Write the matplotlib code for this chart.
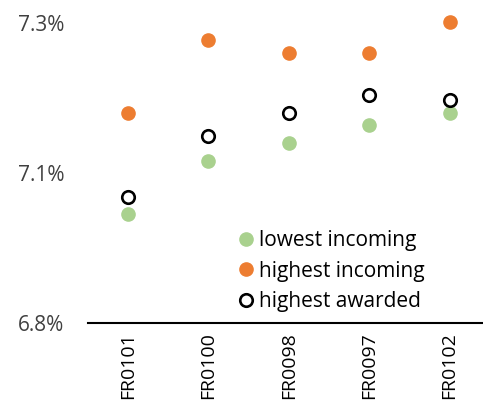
import matplotlib
matplotlib.use("Agg")
import matplotlib.pyplot as plt
from matplotlib.ticker import FixedLocator, FixedFormatter

categories = ["FR0101", "FR0100", "FR0098", "FR0097", "FR0102"]
lowest_incoming = [6.981, 7.070, 7.100, 7.130, 7.149]
highest_incoming = [7.149, 7.271, 7.250, 7.250, 7.301]
highest_awarded = [7.010, 7.111, 7.149, 7.179, 7.171]
y_ticks = [6.8, 7.05, 7.3]
y_tick_labels = ["6.8%", "7.1%", "7.3%"]

plt.rcParams['font.family'] = ['Open Sans', 'DejaVu Sans']

fig = plt.figure(figsize=(4.83, 4.09), dpi=100)
W, H = 483, 409
left, right, top, bottom = 87.7, 489.7, 22.7, 322.7
ax = fig.add_axes([left / W, 1 - bottom / H, (right - left) / W, (bottom - top) / H])

x = list(range(len(categories)))
ax.plot(x, lowest_incoming, linestyle='none', marker='o', markersize=9.5,
        markerfacecolor='#A9D18E', markeredgecolor='#A9D18E', label='lowest incoming', clip_on=False)
ax.plot(x, highest_incoming, linestyle='none', marker='o', markersize=9.5,
        markerfacecolor='#ED7D31', markeredgecolor='#ED7D31', label='highest incoming', clip_on=False)
ax.plot(x, highest_awarded, linestyle='none', marker='o', markersize=9.0,
        markerfacecolor='white', markeredgecolor='black', markeredgewidth=1.9,
        label='highest awarded', clip_on=False)

ax.set_xlim(-0.5, len(categories) - 0.5)
ax.set_ylim(6.8, 7.3)
ax.yaxis.set_major_locator(FixedLocator(y_ticks))
ax.yaxis.set_major_formatter(FixedFormatter(y_tick_labels))
ax.set_xticks(x)
ax.set_xticklabels(categories, rotation=90, fontsize=14, color='#000000')

for s in ['top', 'right', 'left']:
    ax.spines[s].set_visible(False)
ax.spines['bottom'].set_linewidth(1.5)
ax.spines['bottom'].set_color('black')
ax.tick_params(axis='y', length=0, pad=17, labelsize=15, labelcolor='#404040')
ax.tick_params(axis='x', length=0, pad=7)

leg = ax.legend(loc='center left', bbox_to_anchor=(240 / W, 1 - 271 / H),
                bbox_transform=fig.transFigure, frameon=False, fontsize=15,
                handlelength=0.6, handletextpad=0.3, labelspacing=0.45,
                borderaxespad=0, borderpad=0)
for t in leg.get_texts():
    t.set_color('#000000')

fig.savefig("out.png", dpi=100)
